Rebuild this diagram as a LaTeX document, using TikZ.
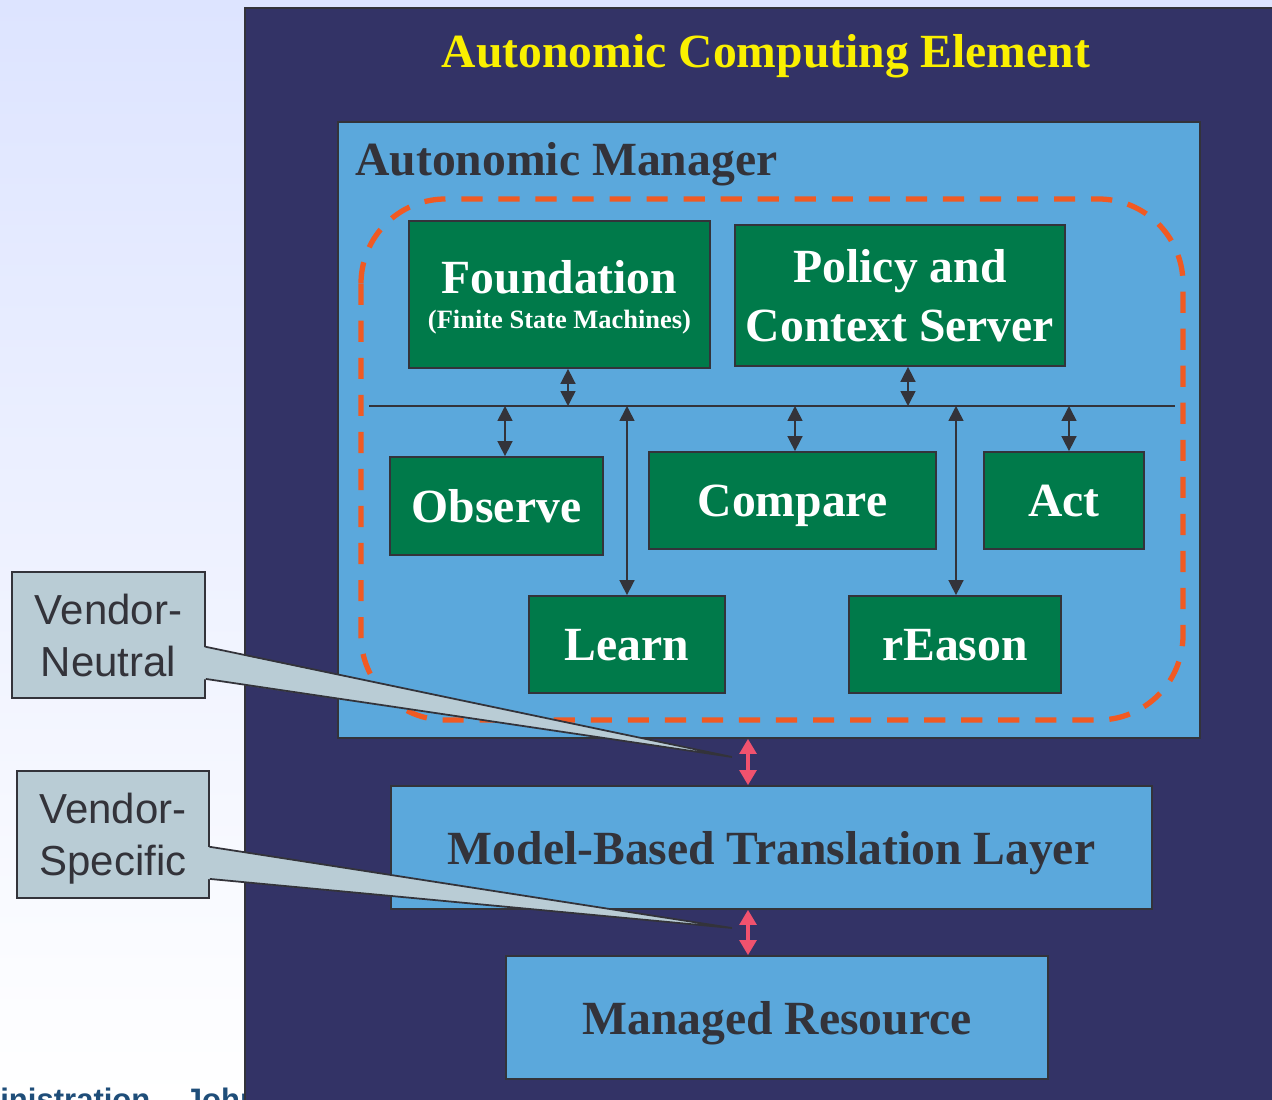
\documentclass[tikz,border=0pt]{standalone}
\usepackage{fontspec}
\setmainfont{Liberation Serif}
\setsansfont{Liberation Sans}
\usetikzlibrary{arrows.meta,fit,positioning}
\definecolor{navy}{RGB}{51,51,102}
\definecolor{skyfill}{RGB}{91,168,220}
\definecolor{greenfill}{RGB}{0,122,74}
\definecolor{darkline}{RGB}{51,51,58}
\definecolor{calloutfill}{RGB}{185,204,213}
\definecolor{titleyellow}{RGB}{250,240,0}
\definecolor{looporange}{RGB}{240,90,35}
\definecolor{pinkred}{RGB}{240,82,110}
\definecolor{footblue}{RGB}{31,78,121}
\definecolor{bgblue}{RGB}{221,228,255}

\begin{document}
\begin{tikzpicture}[x=0.5669pt, y=-0.5669pt,
bigfont/.style={font=\fontsize{27}{33}\selectfont\bfseries},
size/.style 2 args={minimum width=#1*0.5669pt, minimum height=#2*0.5669pt},
skybox/.style={draw=darkline, line width=1pt, fill=skyfill, inner sep=0pt, text=darkline, text depth=0pt, bigfont},
greenbox/.style={draw=darkline, line width=1pt, fill=greenfill, inner sep=0pt, text=white, text depth=0pt, align=center, bigfont},
callout/.style={draw=darkline, line width=1pt, fill=calloutfill, inner sep=0pt, text=darkline, text depth=0pt, align=center, font=\sffamily\fontsize{23.8}{29.5}\selectfont},
bus arrow/.style={draw=darkline, fill=darkline, line width=0.9pt, {Triangle[width=8.5pt,length=8.5pt]}-{Triangle[width=8.5pt,length=8.5pt]}},
pink arrow/.style={draw=pinkred, fill=pinkred, line width=1.9pt, {Triangle[width=9.5pt,length=8.5pt]}-{Triangle[width=9.5pt,length=8.5pt]}}]
\clip (0,0) rectangle (1272,1100);
\shade[top color=bgblue, bottom color=white] (0,0) rectangle (1272,1100);
\node [anchor=base west, inner sep=0pt, text=footblue, font=\sffamily\bfseries\fontsize{17.6}{20}\selectfont] (footer) at (0,1110) {\llap{Adm}inistration – John};

% element frame
\node [draw=darkline, line width=1pt, fill=navy, inner sep=0pt, fit={(245,8) (1290,1120)}] (ace) {};
\node [bigfont, text=titleyellow, anchor=base, inner sep=0pt] (acetitle) at (766,68) {Autonomic Computing Element};

% manager
\node [skybox, size={862}{616}] (mgr) at (769,430) {};
\node [bigfont, text=darkline, anchor=base west, inner sep=0pt] (mgrtitle) at (355,176) {Autonomic Manager};
\draw [looporange, line width=3pt, dash pattern=on 12pt off 9pt, rounded corners=48pt] (361,199) rectangle (1183,720);

\node [greenbox, size={301}{147}] (found) at (559.5,294.5) {Foundation\\[-13pt]{\fontsize{15}{18}\selectfont (Finite State Machines)}};
\node [greenbox, size={330}{141}] (policy) at (900,295.5) {Policy and\\Context Server};
\node [greenbox, size={213}{98}] (observe) at (496.5,506) {Observe};
\node [greenbox, size={287}{97}] (compare) at (792.5,500.5) {Compare};
\node [greenbox, size={160}{97}] (act) at (1064,500.5) {Act};
\node [greenbox, size={196}{97}] (learn) at (627,644.5) {Learn};
\node [greenbox, size={212}{97}] (reason) at (955,644.5) {rEason};

\draw [darkline, line width=1pt] (369,406) coordinate (busL) -- (1175,406) coordinate (busR);
\coordinate (tapF) at (568,406);
\coordinate (tapP) at (908,406);
\coordinate (tapO) at (505,406);
\coordinate (tapC) at (795,406);
\coordinate (tapA) at (1069,406);
\coordinate (tapL) at (627,406);
\coordinate (tapR) at (956,406);
\draw [bus arrow] (found.south -| tapF) -- (tapF);
\draw [bus arrow] (policy.south -| tapP) -- (tapP);
\draw [bus arrow] (tapO) -- (observe.north -| tapO);
\draw [bus arrow] (tapC) -- (compare.north -| tapC);
\draw [bus arrow] (tapA) -- (act.north -| tapA);
\draw [bus arrow] (tapL) -- (learn.north -| tapL);
\draw [bus arrow] (tapR) -- (reason.north -| tapR);

% lower layers
\node [skybox, size={761}{123}] (layer) at (771.5,847.5) {Model-Based Translation Layer};
\node [skybox, size={542}{123}] (res) at (777,1017.5) {Managed Resource};
\coordinate (tapM) at (748,762);
\draw [pink arrow] (mgr.south -| tapM) -- (layer.north -| tapM);
\draw [pink arrow] (layer.south -| tapM) -- (res.north -| tapM);

% callouts
\node [callout, size={193}{126}] (neutral) at (108.5,635) {Vendor-\\Neutral};
\node [callout, size={192}{127}] (specific) at (113,834.5) {Vendor-\\Specific};
\coordinate (tipN) at (732,757);
\coordinate (tipS) at (732,928);
\fill [calloutfill] ([shift={(-2pt,29.5pt)}]neutral.south east) -- (tipN) -- ([shift={(-2pt,11.3pt)}]neutral.south east) -- cycle;
\draw [darkline, line width=1pt] ([yshift=29.5pt]neutral.south east) -- (tipN) -- ([yshift=11.3pt]neutral.south east);
\fill [calloutfill] ([shift={(-2pt,29.5pt)}]specific.south east) -- (tipS) -- ([shift={(-2pt,11.3pt)}]specific.south east) -- cycle;
\draw [darkline, line width=1pt] ([yshift=29.5pt]specific.south east) -- (tipS) -- ([yshift=11.3pt]specific.south east);
\end{tikzpicture}
\end{document}
